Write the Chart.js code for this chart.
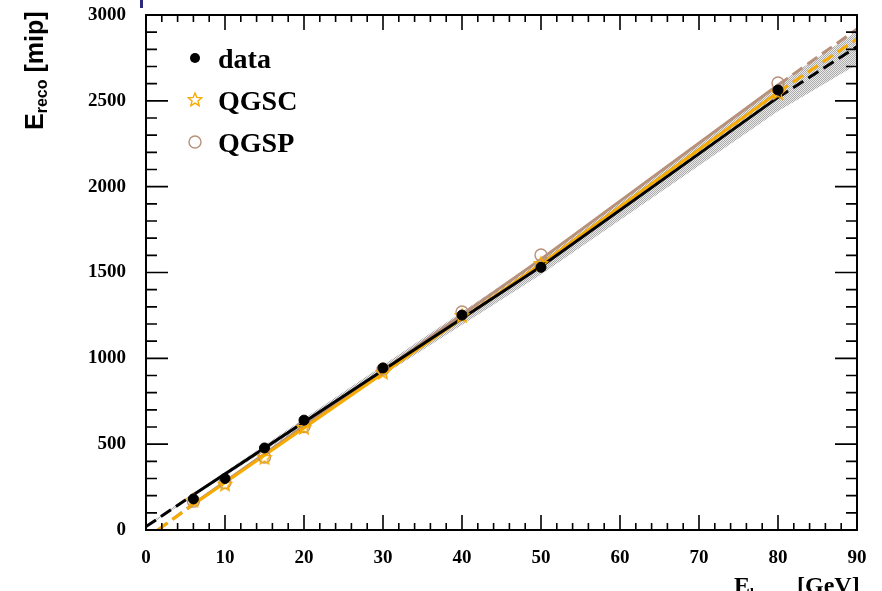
<!DOCTYPE html>
<html>
<head>
<meta charset="utf-8">
<script src="https://cdn.jsdelivr.net/npm/chart.js@4/dist/chart.umd.min.js"></script>
<style>
  html, body { margin: 0; padding: 0; background: #fff; }
  #wrap { width: 882px; height: 591px; }
</style>
</head>
<body>
<div id="wrap"><canvas id="c" width="882" height="591"></canvas></div>
<script>
// beam energies [GeV]
const energies = [6, 10, 15, 20, 30, 40, 50, 80];
// reconstructed energy [mip]
const dataReco = [181, 300, 478, 640, 944, 1252, 1530, 2563];
const qgscReco = [176, 270, 425, 600, 922, 1252, 1555, 2551];
const qgspReco = [168, 276, 425, 603, 937, 1270, 1602, 2604];

// fitted lines
const dataFitX = [0, 6, 50, 80, 90];
const dataFitY = [20, 205, 1535, 2520, 2815];
const qgscFitX = [1.5, 6, 50, 80, 90];
const qgscFitY = [0, 148, 1550, 2550, 2860];
const qgspFitX = [1.5, 6, 50, 80, 90];
const qgspFitY = [0, 152, 1578, 2592, 2918];

// systematic band around the data fit
const bandX  = [0, 6, 50, 80, 90];
const bandLo = [14, 196, 1488, 2440, 2712];
const bandHi = [26, 214, 1582, 2600, 2905];

const xTicks = [0, 10, 20, 30, 40, 50, 60, 70, 80, 90];
const yTicks = [0, 500, 1000, 1500, 2000, 2500, 3000];

const fitRange = [6, 80];
const pts = (xs, ys) => xs.map((x, i) => ({ x, y: ys[i] }));

const orange = '#f7aa00';
const brown  = '#b8917a';
const serif  = '"Liberation Serif", "Times New Roman", serif';
const sans   = '"Liberation Sans", Arial, sans-serif';

// open five-pointed star marker
function starMarker(r, color) {
  const c = document.createElement('canvas');
  const s = Math.ceil(r * 2 + 4);
  c.width = s; c.height = s;
  const g = c.getContext('2d');
  g.translate(s / 2, s / 2 + 1);
  g.beginPath();
  for (let i = 0; i < 10; i++) {
    const a = -Math.PI / 2 + i * Math.PI / 5;
    const rr = i % 2 ? r * 0.45 : r;
    g.lineTo(Math.cos(a) * rr, Math.sin(a) * rr);
  }
  g.closePath();
  g.strokeStyle = color; g.lineWidth = 1.4; g.stroke();
  return c;
}
const star = starMarker(7, orange);

// dotted grey hatch for the band
function dots() {
  const c = document.createElement('canvas');
  c.width = 2; c.height = 2;
  const g = c.getContext('2d');
  g.fillStyle = 'rgba(150,150,150,0.8)';
  g.fillRect(0, 0, 1, 1); g.fillRect(1, 1, 1, 1);
  g.fillStyle = 'rgba(220,220,220,0.6)';
  g.fillRect(1, 0, 1, 1); g.fillRect(0, 1, 1, 1);
  return c.getContext('2d').createPattern(c, 'repeat');
}

const outside = ctx => ctx.p0.parsed.x < fitRange[0] - 0.01 || ctx.p1.parsed.x > fitRange[1] + 0.01;

function fitLine(label, xs, ys, color, order) {
  return {
    label, data: pts(xs, ys), showLine: true, borderColor: color, borderWidth: 3,
    pointRadius: 0, fill: false, order,
    segment: { borderDash: c => outside(c) ? [12, 6] : undefined }
  };
}

const frame = {
  id: 'frame',
  afterDraw(chart) {
    const { ctx, chartArea: a, scales: { x, y } } = chart;
    ctx.save();
    ctx.strokeStyle = '#000';
    ctx.lineWidth = 2;
    ctx.strokeRect(a.left, a.top, a.right - a.left, a.bottom - a.top);
    ctx.lineWidth = 1.6;
    ctx.beginPath();
    for (let v = x.min; v <= x.max + 1e-6; v += 2) {
      const px = x.getPixelForValue(v);
      const len = v % 10 === 0 ? 15 : 7;
      ctx.moveTo(px, a.bottom); ctx.lineTo(px, a.bottom - len);
      ctx.moveTo(px, a.top); ctx.lineTo(px, a.top + len);
    }
    for (let v = y.min; v <= y.max + 1e-6; v += 100) {
      const py = y.getPixelForValue(v);
      const len = v % 500 === 0 ? 22 : 11;
      ctx.moveTo(a.left, py); ctx.lineTo(a.left + len, py);
      ctx.moveTo(a.right, py); ctx.lineTo(a.right - len, py);
    }
    ctx.stroke();

    // legend
    ctx.fillStyle = '#000';
    ctx.beginPath(); ctx.arc(195, 58, 5, 0, Math.PI * 2); ctx.fill();
    ctx.drawImage(star, 195 - star.width / 2, 100 - star.height / 2 - 1);
    ctx.strokeStyle = brown; ctx.lineWidth = 1.4;
    ctx.beginPath(); ctx.arc(195, 142, 6, 0, Math.PI * 2); ctx.stroke();
    ctx.font = 'bold 28px ' + serif;
    ctx.textBaseline = 'alphabetic';
    ctx.fillText('data', 218, 68);
    ctx.fillText('QGSC', 218, 110);
    ctx.fillText('QGSP', 218, 152);

    // y title
    ctx.save();
    ctx.translate(43, 130);
    ctx.rotate(-Math.PI / 2);
    ctx.font = 'bold 25px ' + sans;
    ctx.fillText('E', 0, 0);
    let w = ctx.measureText('E').width;
    ctx.font = 'bold 16px ' + sans;
    ctx.fillText('reco', w, 4);
    w += ctx.measureText('reco').width;
    ctx.font = 'bold 25px ' + sans;
    ctx.fillText(' [mip]', w, 0);
    ctx.restore();

    // x title (cut by the bottom edge)
    ctx.font = 'bold 24px ' + serif;
    ctx.fillText('E', 734, 593);
    const xw = 734 + ctx.measureText('E').width;
    ctx.font = 'bold 15px ' + serif;
    ctx.fillText('beam', xw, 598);
    ctx.font = 'bold 24px ' + serif;
    ctx.fillText('[GeV]', 797, 593);

    ctx.fillStyle = '#2b2b7a';
    ctx.fillRect(140, 0, 3, 8);
    ctx.restore();
  }
};

const tickFont = { family: serif, size: 19, weight: 'bold' };

new Chart(document.getElementById('c'), {
  type: 'scatter',
  data: {
    datasets: [
      { label: 'data', data: pts(energies, dataReco), pointRadius: 5, pointBackgroundColor: '#000', pointBorderColor: '#000', order: 0 },
      { label: 'QGSC', data: pts(energies, qgscReco), pointStyle: star, order: 1 },
      { label: 'QGSP', data: pts(energies, qgspReco), pointRadius: 6, pointBorderWidth: 1.4, pointBackgroundColor: 'rgba(0,0,0,0)', pointBorderColor: brown, order: 2 },
      fitLine('data fit', dataFitX, dataFitY, '#000', 3),
      fitLine('QGSC fit', qgscFitX, qgscFitY, orange, 4),
      fitLine('QGSP fit', qgspFitX, qgspFitY, brown, 5),
      { label: 'band lo', data: pts(bandX, bandLo), showLine: true, borderWidth: 0, pointRadius: 0, fill: false, order: 7 },
      { label: 'band hi', data: pts(bandX, bandHi), showLine: true, borderWidth: 0, pointRadius: 0, fill: '-1', backgroundColor: dots(), order: 6 }
    ]
  },
  options: {
    responsive: false,
    animation: false,
    layout: { padding: { top: 15, right: 25, left: 0, bottom: 0 } },
    plugins: { legend: { display: false }, tooltip: { enabled: false } },
    scales: {
      x: {
        type: 'linear', min: 0, max: 90,
        afterFit: s => { s.height = 61; s.paddingLeft = 0; s.paddingRight = 0; },
        afterBuildTicks: s => { s.ticks = xTicks.map(v => ({ value: v })); },
        grid: { display: false, drawTicks: false }, border: { display: false },
        ticks: { color: '#000', padding: 17, font: tickFont, callback: v => String(v) }
      },
      y: {
        type: 'linear', min: 0, max: 3000,
        afterFit: s => { s.width = 146; s.paddingTop = 0; s.paddingBottom = 0; },
        afterBuildTicks: s => { s.ticks = yTicks.map(v => ({ value: v })); },
        grid: { display: false, drawTicks: false }, border: { display: false },
        ticks: { color: '#000', padding: 20, font: tickFont, callback: v => String(v) }
      }
    }
  },
  plugins: [frame]
});
</script>
</body>
</html>
